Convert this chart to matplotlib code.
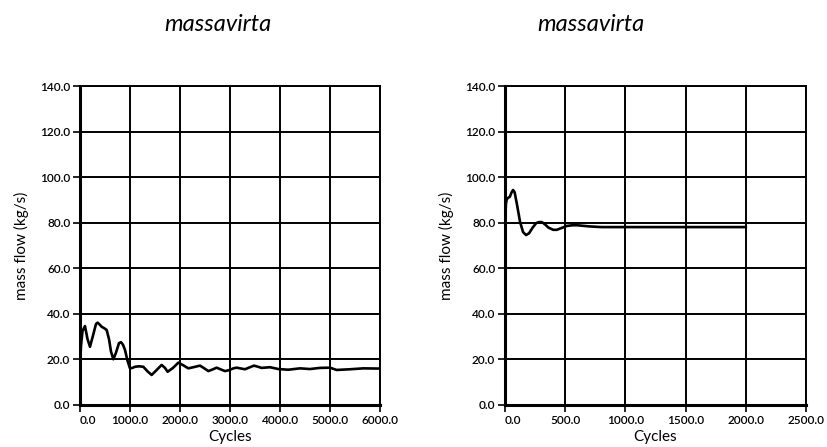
import numpy as np
import matplotlib
matplotlib.use('Agg')
import matplotlib.pyplot as plt
from matplotlib.ticker import FormatStrFormatter

# left panel: long run
cycles_long = [0, 20, 50, 100, 150, 200, 260, 320, 353, 400, 433, 480, 533, 580, 620, 667,
               720, 780, 820, 860, 900, 950, 1000, 1050, 1100, 1180, 1267, 1350, 1433,
               1530, 1633, 1700, 1753, 1860, 1967, 2070, 2167, 2267, 2400, 2480, 2567,
               2650, 2733, 2820, 2900, 2980, 3067, 3133, 3300, 3400, 3480, 3560, 3633,
               3800, 3967, 4167, 4400, 4600, 4800, 5000, 5133, 5400, 5667, 6000]
flow_long = [16.8, 26.0, 32.5, 34.7, 29.0, 25.6, 30.5, 35.6, 36.2, 35.2, 34.4, 33.8, 33.0,
             29.0, 23.5, 20.1, 23.0, 27.2, 27.6, 26.5, 24.2, 19.5, 16.1, 16.3, 16.8,
             17.0, 16.8, 14.8, 13.2, 15.3, 17.6, 16.3, 14.6, 16.3, 18.6, 17.4, 16.1,
             16.6, 17.3, 16.2, 14.9, 15.6, 16.4, 15.6, 14.9, 15.3, 16.1, 16.4, 15.7,
             16.6, 17.3, 16.8, 16.3, 16.6, 15.8, 15.5, 16.1, 15.8, 16.3, 16.4, 15.4,
             15.7, 16.1, 16.0]

# right panel: short run
cycles_short = [0, 8, 15, 25, 40, 55, 67, 80, 100, 125, 150, 175, 200, 230, 260, 285, 305,
                330, 360, 400, 430, 470, 514, 560, 600, 700, 800, 1000, 1500, 2000]
flow_short = [80.0, 88.5, 90.5, 91.0, 91.5, 93.5, 94.5, 93.5, 88.0, 80.5, 76.0, 74.7,
              75.5, 78.0, 80.0, 80.4, 80.4, 79.5, 78.0, 77.0, 77.0, 77.8, 78.7, 79.0,
              79.0, 78.5, 78.2, 78.2, 78.2, 78.2]

xticks_long = [0, 1000, 2000, 3000, 4000, 5000, 6000]
xticks_short = [0, 500, 1000, 1500, 2000, 2500]
yticks = [0, 20, 40, 60, 80, 100, 120, 140]

plt.rcParams['font.family'] = ['Lato', 'DejaVu Sans']

fig = plt.figure(figsize=(8.28, 4.47), dpi=100)
ax1 = fig.add_axes([0.0966, 0.094, 0.3623, 0.7125])
ax2 = fig.add_axes([0.6099, 0.094, 0.3635, 0.7125])

for ax, x, y, xt in [(ax1, cycles_long, flow_long, xticks_long),
                     (ax2, cycles_short, flow_short, xticks_short)]:
    ax.plot(x, y, color='black', lw=1.9, zorder=3)
    ax.set_xlim(xt[0], xt[-1])
    ax.set_ylim(0, 140)
    ax.set_xticks(xt)
    ax.set_yticks(yticks)
    ax.xaxis.set_major_formatter(FormatStrFormatter('%.1f'))
    ax.yaxis.set_major_formatter(FormatStrFormatter('%.1f'))
    ax.grid(True, color='black', lw=1.4)
    ax.set_axisbelow(True)
    for s in ax.spines.values():
        s.set_linewidth(1.4)
    ax.spines['left'].set_linewidth(2.2)
    ax.spines['bottom'].set_linewidth(2.2)
    ax.tick_params(direction='out', length=5, width=1.2, labelsize=8.5, pad=2)
    for lab in ax.get_xticklabels() + ax.get_yticklabels():
        lab.set_fontweight('semibold')
    ax.get_xticklabels()[0].set_horizontalalignment('left')
    ax.set_xlabel('Cycles', fontsize=11, labelpad=3)
    ax.set_ylabel('mass flow (kg/s)', fontsize=11, labelpad=8)

fig.text(0.263, 0.945, 'massavirta', ha='center', va='center', fontsize=17, style='italic')
fig.text(0.714, 0.945, 'massavirta', ha='center', va='center', fontsize=17, style='italic')

fig.savefig('out.png', dpi=100)
